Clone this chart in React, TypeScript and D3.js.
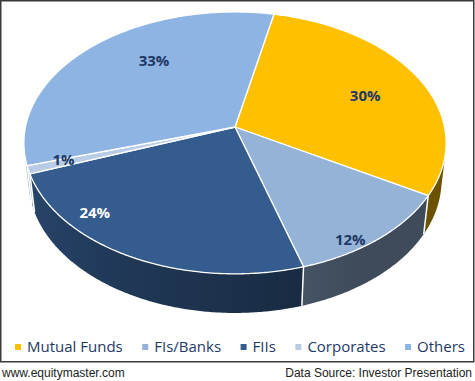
import React from "react";
import * as d3 from "d3";

// ---- data ----
const categories = ["Mutual Funds", "FIs/Banks", "FIIs", "Corporates", "Others"];
const values = [30, 12, 24, 1, 33];
const labels = ["30%", "12%", "24%", "1%", "33%"];
const topColors = ["#FFC000", "#95B3D7", "#345C8E", "#B8CCE6", "#8EB4E3"];
const labelColors = ["#1F3864", "#1F3864", "#FFFFFF", "#1F3864", "#1F3864"];
// label placement inside each slice: radius fraction and angular fraction
const labelRadius = [0.69, 0.93, 0.87, 0.83, 0.69];
const labelAngleFrac = [0.52, 0.64, 0.72, 0.95, 0.59];

// ---- layout / projection ----
const W = 475;
const H = 381;
const CX = 235;
const CY = 127;
const S = Math.sin((38 * Math.PI) / 180);
const C = Math.cos((38 * Math.PI) / 180);
const DIST = 6.49;
const FOC = 1360;
const THICK = 0.233;
const START_DEG = 12;

function project(thetaDeg: number, r: number, yw: number): [number, number] {
  const t = (thetaDeg * Math.PI) / 180;
  const xw = r * Math.sin(t);
  const zw = -r * Math.cos(t);
  const yp = yw * C - zw * S;
  const zp = yw * S + zw * C;
  const k = FOC / (DIST - zp);
  return [CX + xw * k, CY - yp * k];
}

const visMin = (Math.acos(-1 / (DIST * C)) * 180) / Math.PI; // ~101
const visMax = 360 - visMin;

function shadeFactor(theta: number): number {
  return 0.42 + 0.36 * Math.max(0, Math.min(1, (theta - 150) / 108));
}
function wallShade(base: string, theta: number): string {
  const f = shadeFactor(theta);
  const c = d3.rgb(base);
  return d3.rgb(c.r * f, c.g * f, c.b * f).formatHex();
}

export default function App() {
  const pie = d3
    .pie<number>()
    .sort(null)
    .value((d) => d)
    .startAngle((START_DEG * Math.PI) / 180)
    .endAngle(((START_DEG + 360) * Math.PI) / 180);
  const arcs = pie(values);
  const deg = (a: number) => (a * 180) / Math.PI;

  const line = d3.line();
  const xL = project(visMax, 1, 0)[0];
  const xR = project(visMin, 1, 0)[0];

  // walls: one path per slice, horizontal gradient shading
  const walls: { d: string; id: string; stops: { off: number; color: string }[] }[] = [];
  const wallLines: string[] = [];
  arcs.forEach((a, i) => {
    const s0 = deg(a.startAngle);
    const s1 = deg(a.endAngle);
    const lo = Math.max(s0, visMin);
    const hi = Math.min(s1, visMax);
    if (hi > lo) {
      const n = Math.max(2, Math.ceil((hi - lo) / 0.5));
      const topPts: [number, number][] = [];
      const botPts: [number, number][] = [];
      for (let j = 0; j <= n; j++) {
        const t = lo + ((hi - lo) * j) / n;
        topPts.push(project(t, 1, 0));
        botPts.push(project(t, 1, -THICK));
      }
      const pts = topPts.concat(botPts.reverse());
      const stops: { off: number; color: string }[] = [];
      for (let t = visMax; t >= visMin; t -= 4) {
        const x = project(t, 1, 0)[0];
        stops.push({ off: (x - xL) / (xR - xL), color: wallShade(topColors[i], t) });
      }
      walls.push({ d: line(pts) + "Z", id: "wg" + i, stops });
    }
    if (s0 > visMin && s0 < visMax) {
      wallLines.push(line([project(s0, 1, 0), project(s0, 1, -THICK)]) as string);
    }
  });

  // top faces
  const tops = arcs.map((a, i) => {
    const s0 = deg(a.startAngle);
    const s1 = deg(a.endAngle);
    const n = Math.max(2, Math.ceil((s1 - s0) / 0.5));
    const pts: [number, number][] = [project(0, 0, 0)];
    for (let j = 0; j <= n; j++) pts.push(project(s0 + ((s1 - s0) * j) / n, 1, 0));
    return { d: line(pts) + "Z", fill: topColors[i] };
  });

  const labelPos = arcs.map((a, i) => {
    const s0 = deg(a.startAngle);
    const s1 = deg(a.endAngle);
    return project(s0 + (s1 - s0) * labelAngleFrac[i], labelRadius[i], 0);
  });

  // legend layout: spread between left and right extents
  const legendFontSize = 15;
  let widths = categories.map((c) => c.length * 8);
  if (typeof document !== "undefined") {
    const ctx = document.createElement("canvas").getContext("2d");
    if (ctx) {
      ctx.font = `${legendFontSize}px 'Open Sans'`;
      widths = categories.map((c) => ctx.measureText(c).width);
    }
  }
  const itemW = widths.map((w) => 12 + w);
  const legendLeft = 15;
  const legendRight = 465;
  const gap = Math.max(10, (legendRight - legendLeft - d3.sum(itemW)) / (itemW.length - 1));
  let lx = legendLeft;
  const legendX = itemW.map((w) => {
    const x = lx;
    lx += w + gap;
    return x;
  });

  return (
    <svg
      width={W}
      height={H}
      style={{ position: "fixed", left: 0, top: 0, background: "#fff" }}
      fontFamily="'Open Sans', sans-serif"
    >
      <defs>
        {walls.map((w) => (
          <linearGradient key={w.id} id={w.id} gradientUnits="userSpaceOnUse" x1={xL} x2={xR} y1={0} y2={0}>
            {w.stops.map((s, j) => (
              <stop key={j} offset={s.off} stopColor={s.color} />
            ))}
          </linearGradient>
        ))}
      </defs>
      <rect x={0} y={0} width={W} height={H} fill="#fff" />
      <rect x={0.75} y={0.75} width={473} height={361} fill="none" stroke="#3a3a3a" strokeWidth={1.5} />
      <g>
        {walls.map((w) => (
          <path key={"w" + w.id} d={w.d} fill={`url(#${w.id})`} />
        ))}
        {wallLines.map((d, i) => (
          <path key={"wl" + i} d={d} stroke="#fff" strokeWidth={1.5} fill="none" />
        ))}
        {tops.map((t, i) => (
          <path key={"t" + i} d={t.d} fill={t.fill} stroke="#fff" strokeWidth={1.3} strokeLinejoin="round" />
        ))}
        {labelPos.map((p, i) => (
          <text
            key={"l" + i}
            x={p[0]}
            y={p[1]}
            textAnchor="middle"
            dominantBaseline="central"
            fontSize={15}
            fontWeight="bold"
            fill={labelColors[i]}
          >
            {labels[i]}
          </text>
        ))}
      </g>
      <g>
        {categories.map((c, i) => (
          <g key={"lg" + i}>
            <rect x={legendX[i]} y={344} width={6} height={6} fill={topColors[i]} />
            <text x={legendX[i] + 12} y={352} fontSize={legendFontSize} fill="#1F3864">
              {c}
            </text>
          </g>
        ))}
      </g>
      <text x={2} y={376.5} fontSize={12} fontFamily="'Liberation Sans', Arial, sans-serif" fill="#222">
        www.equitymaster.com
      </text>
      <text
        x={472}
        y={376.5}
        fontSize={12}
        textAnchor="end"
        fontFamily="'Liberation Sans', Arial, sans-serif"
        fill="#222"
      >
        Data Source: Investor Presentation
      </text>
    </svg>
  );
}
